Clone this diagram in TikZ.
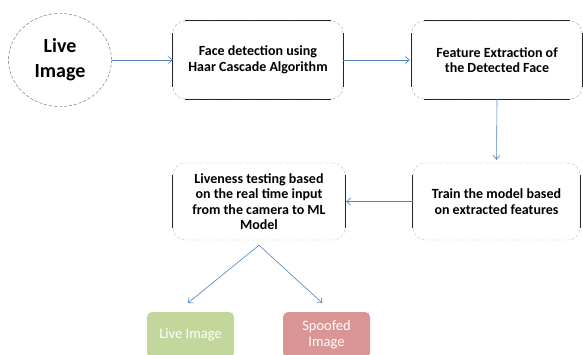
\documentclass[tikz,border=0pt]{standalone}
\usepackage{fontspec}
\setmainfont{Carlito}
\usetikzlibrary{arrows.meta,shapes.geometric}
\definecolor{flowblue}{HTML}{4F81BD}
\definecolor{livegreen}{HTML}{C3D69B}
\definecolor{spoofred}{HTML}{D99694}

\begin{document}
\begin{tikzpicture}[x=1pt, y=-1pt,
        stepbox/.style={rounded corners=12pt, draw=black!35, densely dashed, align=center,
                font=\bfseries\fontsize{14}{15.5}\selectfont},
        edge/.style={black!85, line width=0.7pt},
        flow/.style={flowblue, line width=0.6pt, -{Straight Barb[length=4pt, width=7pt]}},
        result/.style={rounded corners=5pt, minimum width=87pt, minimum height=46pt, align=center,
                text=white, font=\fontsize{14.5}{16}\selectfont}]
        \useasboundingbox (0, 0) rectangle (583, 354);
        %draw start circle
        \node[ellipse, draw=black!60, densely dashed, minimum width=103pt, minimum height=93pt,
                align=center, font=\bfseries\fontsize{20}{25}\selectfont] (live) at (60, 60) {Live\\Image};
        %draw process boxes
        \node[stepbox, minimum width=170pt, minimum height=78pt] (detect) at (258, 60)
                {Face detection using\\Haar Cascade Algorithm};
        \node[stepbox, minimum width=170pt, minimum height=78pt] (extract) at (497, 60)
                {Feature Extraction of\\the Detected Face};
        \node[stepbox, draw=black!25, minimum width=167pt, minimum height=77pt] (train) at (496.5, 201.5)
                {Train the model based\\on extracted features};
        \node[stepbox, draw=black!25, minimum width=172pt, minimum height=77pt] (test) at (259, 201.5)
                {Liveness testing based\\on the real time input\\from the camera to ML\\Model};
        %draw straight edges of the boxes
        \foreach \b in {detect, extract} {
                \draw[edge] ([xshift=12pt]\b.north west) -- ([xshift=-12pt]\b.north east);
                \draw[edge] ([xshift=12pt]\b.south west) -- ([xshift=-12pt]\b.south east);
        }
        \foreach \b in {detect, extract, train, test} {
                \draw[edge] ([yshift=-12pt]\b.north west) -- ([yshift=12pt]\b.south west);
                \draw[edge] ([yshift=-12pt]\b.north east) -- ([yshift=12pt]\b.south east);
        }
        %draw result boxes
        \node[result, fill=livegreen] (real) at (190.5, 335) {Live Image};
        \node[result, fill=spoofred] (fake) at (326.5, 335) {Spoofed\\Image};
        %draw arrows
        \draw[flow] (live.east) -- (detect.west);
        \draw[flow, shorten >=2pt] (detect.east) -- (extract.west);
        \draw[flow, shorten >=3pt] (extract.south) -- (train.north);
        \draw[flow, shorten >=1pt] (train.west) -- (test.east);
        \draw[flow, shorten >=14pt] ([yshift=-5pt]test.south) -- ([xshift=-13.5pt]real.north);
        \draw[flow, shorten >=13pt] ([yshift=-5pt]test.south) -- ([xshift=5.3pt]fake.north);
    \end{tikzpicture}
\end{document}
